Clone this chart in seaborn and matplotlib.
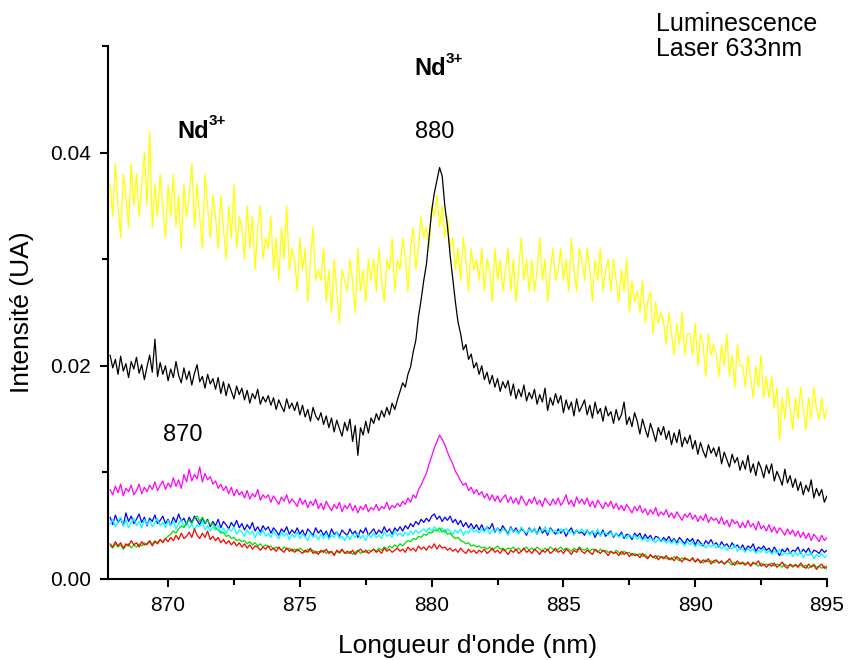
import numpy as np
import pandas as pd
import matplotlib
matplotlib.use("Agg")
import matplotlib.pyplot as plt
from matplotlib.ticker import MultipleLocator, FormatStrFormatter
import seaborn as sns

# Wavelength sampling (nm): 867.8 ... 895.0 in 0.1 nm steps
wavelength = np.round(np.linspace(867.8, 895.0, 273), 1)

# Luminescence intensities, in units of 1e-3 (UA); one row = 1 nm
yellow = [
    37, 34, 39, 35, 32, 38, 36, 33, 39, 35,
    38, 34, 37, 40, 35, 42, 33, 37, 34, 38,
    35, 32, 37, 34, 38, 33, 36, 31, 37, 34,
    36, 39, 33, 37, 34, 31, 38, 35, 32, 36,
    34, 31, 36, 33, 30, 35, 32, 37, 31, 34,
    33, 30, 35, 31, 34, 29, 33, 35, 30, 32,
    31, 34, 29, 32, 28, 33, 30, 35, 29, 31,
    30, 27, 32, 29, 31, 26, 30, 33, 28, 29,
    28, 31, 26, 29, 25, 30, 27, 24, 29, 28,
    27, 30, 28, 25, 31, 27, 29, 26, 30, 28,
    30, 27, 31, 28, 26, 30, 29, 32, 27, 30,
    29, 32, 30, 27, 31, 33, 29, 31, 34, 32,
    33, 31, 35, 34, 36, 33, 35, 32, 34, 31,
    32, 29, 31, 28, 32, 30, 27, 31, 29, 30,
    28, 31, 27, 30, 29, 26, 31, 28, 30, 27,
    29, 31, 27, 30, 26, 29, 32, 28, 30, 27,
    30, 27, 29, 32, 28, 30, 26, 29, 31, 28,
    29, 31, 28, 30, 27, 32, 29, 27, 31, 30,
    28, 31, 29, 26, 30, 28, 31, 27, 29, 30,
    27, 30, 28, 26, 29, 27, 30, 25, 28, 26,
    27, 25, 28, 24, 26, 27, 23, 26, 24, 25,
    24, 22, 25, 23, 21, 24, 22, 25, 21, 23,
    23, 21, 24, 20, 23, 22, 19, 23, 21, 22,
    21, 19, 22, 20, 23, 19, 21, 18, 22, 20,
    20, 18, 21, 19, 17, 20, 18, 21, 17, 19,
    17, 19, 16, 18, 13, 17, 15, 18, 16, 14,
    17, 15, 18, 16, 14, 17, 15, 18, 16, 15,
    17, 15, 16,
]
black = [
    21.0, 19.8, 20.6, 19.2, 20.9, 19.5, 20.2, 18.9, 20.4, 19.7,
    20.8, 19.3, 20.1, 18.7, 19.9, 21.0, 19.4, 22.5, 19.0, 20.3,
    19.2, 20.0, 18.6, 19.7, 18.9, 20.4, 19.1, 18.4, 19.8, 18.7,
    19.5, 18.2, 19.3, 20.1, 18.5, 19.0, 17.9, 19.2, 18.3, 18.8,
    17.8, 18.9, 17.4, 18.5, 17.2, 18.3, 17.6, 16.9, 18.1, 17.3,
    17.9, 16.8, 17.7, 16.5, 17.4, 16.9, 17.8, 16.4, 17.1, 16.6,
    17.2, 16.3, 17.0, 15.9, 16.8, 16.2, 15.7, 16.9, 16.0, 16.5,
    15.8, 16.6, 15.4, 16.3, 15.2, 15.9, 14.8, 16.1, 15.3, 14.9,
    15.6, 14.5, 15.3, 14.2, 15.1, 13.8, 14.9, 14.1, 13.4, 14.7,
    13.9, 15.0, 12.9, 14.4, 11.6, 14.2, 13.5, 14.8, 13.7, 15.1,
    14.6, 15.5, 14.9, 15.8, 15.2, 16.1, 15.4, 16.5, 15.9, 16.8,
    17.6, 18.4, 18.0, 19.2, 19.9, 21.3, 22.4, 24.6, 26.2, 28.0,
    29.5, 32.0, 34.5, 36.2, 37.4, 38.6, 37.8, 35.0, 33.1, 30.4,
    28.2, 26.0, 24.1, 23.0, 21.5, 22.0, 20.6, 21.1, 19.8, 20.3,
    19.2, 20.0, 18.7, 19.4, 18.3, 19.1, 18.0, 18.8, 17.6, 18.5,
    17.9, 18.6, 17.2, 18.3, 16.9, 17.8, 17.1, 18.2, 16.7, 17.5,
    16.9, 17.8, 16.4, 17.3, 16.6, 17.9, 15.8, 17.0, 16.3, 17.4,
    16.5, 17.2, 15.6, 16.8, 15.9, 16.6, 15.3, 16.9, 15.7, 16.2,
    16.8, 15.4, 16.3, 15.1, 16.6, 15.5, 16.0, 14.8, 16.2, 15.3,
    15.7, 14.6, 15.9, 14.9, 15.4, 16.6, 14.5, 15.2, 14.3, 15.6,
    14.8, 13.6, 15.0, 14.1, 13.3, 14.6, 13.8, 12.9, 14.2, 13.5,
    14.3, 13.1, 13.9, 12.6, 13.7, 12.8, 14.0, 12.4, 13.3, 12.7,
    13.5, 12.2, 13.0, 11.7, 12.8, 12.0, 11.4, 12.6, 11.8, 12.3,
    11.5, 12.4, 10.8, 11.9, 11.2, 10.5, 11.7, 10.9, 11.4, 10.2,
    11.1, 10.3, 11.6, 10.0, 10.8, 9.7, 11.0, 10.4, 9.5, 10.7,
    9.9, 10.8, 9.2, 10.1, 9.5, 8.8, 10.3, 9.0, 9.7, 8.6,
    9.4, 8.3, 9.1, 7.9, 8.8, 8.2, 9.3, 7.6, 8.5, 7.8,
    8.4, 7.2, 7.8,
]
magenta = [
    8.4, 7.9, 8.7, 8.1, 8.9, 7.8, 8.5, 8.2, 8.8, 7.9,
    8.3, 8.9, 8.0, 8.6, 8.2, 8.8, 8.4, 9.1, 8.3, 8.8,
    9.2, 8.4, 9.0, 8.6, 9.5, 8.7, 9.3, 8.5, 9.8, 9.1,
    10.3, 9.2, 9.8, 9.4, 10.5, 9.1, 9.9, 9.3, 9.6, 8.9,
    9.2, 8.5, 8.9, 8.3, 8.7, 8.0, 8.6, 7.8, 8.4, 7.9,
    8.2, 7.6, 8.3, 7.5, 8.0, 7.7, 8.4, 7.4, 7.9, 7.6,
    7.9, 7.2, 7.8, 7.4, 7.0, 7.7, 7.3, 7.9, 7.1, 7.5,
    7.2, 6.8, 7.6, 7.0, 7.4, 6.7, 7.3, 6.9, 7.5, 6.6,
    7.1, 6.5, 7.3, 6.8, 6.4, 7.0, 6.6, 7.2, 6.3, 6.9,
    6.6, 7.1, 6.4, 6.9, 6.2, 6.8, 6.5, 7.0, 6.3, 6.7,
    6.5, 7.0, 6.4, 6.8, 6.6, 7.2, 6.5, 6.9, 6.7, 7.1,
    6.8, 7.3, 7.0, 7.6, 7.2, 7.9, 7.6, 8.4, 8.8, 9.4,
    9.9, 10.8, 11.5, 12.3, 12.9, 13.5, 13.1, 12.6, 11.9, 11.3,
    10.8, 10.1, 9.7, 9.2, 8.8, 9.0, 8.3, 8.6, 8.0, 8.4,
    7.9, 8.2, 7.6, 8.0, 7.4, 7.9, 7.3, 7.8, 7.2, 7.6,
    7.9, 7.2, 7.7, 7.1, 7.6, 7.0, 7.8, 7.3, 6.9, 7.5,
    7.1, 7.7, 7.0, 7.4, 6.8, 7.6, 7.2, 6.9, 7.5, 7.0,
    7.6, 6.9, 7.3, 7.9, 7.0, 7.4, 6.8, 7.7, 7.1, 7.5,
    7.0, 7.6, 6.8, 7.3, 6.7, 7.4, 7.0, 6.6, 7.2, 6.8,
    7.3, 6.6, 7.1, 6.5, 6.9, 6.4, 7.0, 6.6, 6.2, 6.8,
    6.4, 6.9, 6.2, 6.6, 6.0, 6.5, 6.1, 6.7, 5.9, 6.3,
    6.0, 6.5, 5.8, 6.2, 5.7, 6.3, 5.9, 5.5, 6.1, 5.8,
    6.2, 5.6, 6.0, 5.4, 5.9, 5.5, 6.1, 5.3, 5.8, 5.5,
    5.7, 5.2, 5.8, 5.1, 5.5, 4.9, 5.6, 5.2, 5.4, 4.8,
    5.3, 4.8, 5.5, 4.9, 5.2, 4.6, 5.4, 4.7, 5.0, 4.5,
    5.1, 4.4, 4.9, 4.3, 4.8, 4.5, 4.1, 4.7, 4.2, 4.6,
    4.0, 4.5, 3.9, 4.4, 3.8, 4.3, 3.6, 4.2, 3.9, 3.5,
    4.1, 3.6, 3.9,
]
blue = [
    5.8, 5.1, 6.0, 5.3, 5.7, 5.0, 6.2, 5.4, 5.9, 5.2,
    5.6, 6.1, 5.3, 5.8, 5.0, 5.7, 5.4, 6.0, 5.2, 5.5,
    5.9, 5.2, 5.6, 5.0, 5.8, 5.3, 6.1, 5.4, 5.7, 5.1,
    5.8, 5.3, 5.9, 5.5, 5.1, 5.7, 5.2, 5.6, 4.9, 5.4,
    5.0, 5.6, 4.8, 5.4, 5.1, 4.7, 5.3, 4.9, 5.5, 4.8,
    5.2, 4.6, 5.1, 4.7, 5.3, 4.5, 4.9, 4.4, 5.0, 4.6,
    4.9, 4.3, 4.8, 4.5, 4.1, 4.7, 4.4, 4.9, 4.2, 4.6,
    4.3, 4.8, 4.2, 4.6, 4.0, 4.7, 4.4, 4.1, 4.8, 4.3,
    4.6, 4.1, 4.5, 3.9, 4.7, 4.2, 4.4, 4.0, 4.6, 4.3,
    4.1, 4.7, 4.2, 4.5, 3.9, 4.6, 4.3, 4.8, 4.1, 4.4,
    4.7, 4.2, 4.6, 4.3, 4.9, 4.4, 4.7, 4.2, 4.8, 4.5,
    4.9, 4.5, 5.0, 4.7, 5.2, 4.9, 5.4, 5.1, 5.6, 5.3,
    5.7, 5.4, 5.9, 6.1, 5.6, 5.9, 5.4, 5.8, 5.5, 5.9,
    5.3, 5.6, 5.1, 5.5, 4.9, 5.3, 4.8, 5.2, 4.7, 5.1,
    4.6, 5.1, 4.5, 4.9, 4.7, 5.2, 4.4, 4.8, 4.5, 5.0,
    4.6, 4.2, 4.9, 4.4, 4.8, 4.3, 4.7, 4.5, 4.1, 4.8,
    4.4, 4.7, 4.2, 4.9, 4.3, 4.6, 4.1, 4.8, 4.5, 4.2,
    4.7, 4.3, 4.6, 4.0, 4.5, 4.8, 4.2, 4.6, 4.3, 4.4,
    4.1, 4.6, 4.2, 4.5, 3.9, 4.4, 4.1, 4.6, 4.0, 4.3,
    4.5, 3.9, 4.3, 4.0, 4.4, 3.8, 4.2, 4.1, 3.7, 4.3,
    4.0, 4.3, 3.7, 4.2, 3.8, 4.1, 3.6, 4.0, 3.9, 3.5,
    3.9, 3.6, 4.0, 3.5, 3.8, 3.4, 3.9, 3.6, 3.3, 3.8,
    3.5, 3.8, 3.2, 3.7, 3.4, 3.1, 3.6, 3.3, 3.7, 3.2,
    3.4, 3.0, 3.5, 3.1, 3.3, 2.9, 3.4, 3.0, 3.2, 2.8,
    3.2, 2.7, 3.1, 2.9, 3.3, 2.6, 3.0, 2.8, 3.1, 2.7,
    2.9, 2.5, 3.0, 2.6, 2.2, 2.8, 2.5, 2.9, 2.4, 2.7,
    2.6, 3.0, 2.4, 2.8, 2.5, 2.9, 2.3, 2.7, 2.6, 2.4,
    2.8, 2.5, 2.7,
]
cyan = [
    5.1, 5.6, 4.9, 5.4, 5.8, 5.0, 5.5, 4.8, 5.3, 5.7,
    5.0, 5.4, 4.8, 5.6, 5.1, 5.5, 4.9, 5.3, 5.7, 5.0,
    5.3, 4.8, 5.5, 5.0, 5.4, 4.7, 5.2, 5.6, 4.9, 5.3,
    4.8, 5.2, 4.6, 5.1, 4.9, 5.4, 4.6, 5.0, 4.5, 4.9,
    4.6, 5.0, 4.4, 4.8, 4.3, 4.7, 4.5, 4.9, 4.2, 4.6,
    4.4, 4.0, 4.6, 4.2, 4.5, 3.9, 4.4, 4.1, 4.6, 4.0,
    4.3, 3.9, 4.5, 4.1, 3.8, 4.4, 4.0, 4.3, 3.7, 4.2,
    3.9, 4.4, 3.8, 4.2, 4.0, 3.6, 4.3, 3.9, 4.1, 3.7,
    4.2, 3.8, 4.3, 3.7, 4.1, 3.9, 4.4, 3.8, 4.0, 3.6,
    4.1, 3.7, 4.2, 3.9, 4.3, 3.8, 4.1, 3.6, 4.2, 3.9,
    4.3, 3.9, 4.1, 3.8, 4.4, 4.0, 4.2, 3.9, 4.5, 4.1,
    4.3, 4.0, 4.4, 4.1, 4.5, 4.2, 4.6, 4.3, 4.5, 4.7,
    4.4, 4.8, 4.5, 4.9, 4.6, 4.4, 4.8, 4.3, 4.7, 4.5,
    4.2, 4.6, 4.3, 4.7, 4.1, 4.5, 4.3, 4.8, 4.4, 4.6,
    4.3, 4.7, 4.4, 4.9, 4.2, 4.6, 4.5, 4.8, 4.3, 4.7,
    4.5, 4.1, 4.8, 4.4, 4.6, 4.2, 4.9, 4.5, 4.3, 4.7,
    4.4, 4.8, 4.2, 4.6, 4.5, 4.9, 4.3, 4.7, 4.4, 4.6,
    4.2, 4.7, 4.4, 4.8, 4.3, 4.5, 4.1, 4.6, 4.4, 4.7,
    4.3, 4.6, 4.1, 4.5, 4.2, 4.7, 4.0, 4.4, 4.3, 4.1,
    4.4, 4.0, 4.3, 3.9, 4.2, 4.0, 3.8, 4.2, 3.9, 4.1,
    3.7, 4.0, 3.6, 3.9, 3.5, 3.8, 3.7, 3.4, 3.8, 3.5,
    3.7, 3.4, 3.6, 3.3, 3.7, 3.2, 3.5, 3.4, 3.1, 3.5,
    3.2, 3.5, 3.0, 3.4, 3.1, 3.3, 2.9, 3.2, 3.0, 3.3,
    2.9, 3.2, 2.8, 3.1, 2.7, 3.0, 2.8, 3.2, 2.6, 2.9,
    2.8, 2.5, 2.9, 2.6, 2.8, 2.4, 2.7, 2.5, 2.9, 2.4,
    2.7, 2.3, 2.6, 2.4, 2.8, 2.2, 2.5, 2.3, 2.6, 2.1,
    2.5, 2.2, 2.6, 2.0, 2.4, 2.2, 2.5, 1.9, 2.3, 2.1,
    2.4, 2.0, 2.2,
]
green = [
    3.1, 2.9, 3.3, 3.0, 3.2, 2.8, 3.1, 3.3, 2.9, 3.2,
    3.0, 3.3, 3.1, 3.4, 3.2, 3.5, 3.3, 3.6, 3.4, 3.7,
    3.5, 3.8, 4.0, 4.2, 4.5, 4.3, 4.7, 5.0, 4.8, 5.3,
    5.5, 5.2, 5.7, 5.9, 5.4, 5.8, 5.3, 5.5, 5.1, 5.2,
    4.8, 4.6, 4.3, 4.4, 4.0, 4.1, 3.8, 3.9, 3.6, 3.7,
    3.5, 3.6, 3.3, 3.5, 3.2, 3.4, 3.1, 3.3, 3.0, 3.2,
    3.0, 3.1, 2.8, 3.0, 2.9, 2.7, 3.0, 2.8, 2.9, 2.6,
    2.8, 2.6, 2.9, 2.7, 2.5, 2.8, 2.6, 2.7, 2.4, 2.6,
    2.5, 2.7, 2.4, 2.6, 2.5, 2.3, 2.6, 2.4, 2.7, 2.5,
    2.4, 2.6, 2.3, 2.5, 2.7, 2.4, 2.6, 2.5, 2.7, 2.6,
    2.8, 2.6, 2.9, 2.7, 3.0, 2.8, 3.1, 2.9, 3.2, 3.0,
    3.3, 3.1, 3.4, 3.6, 3.5, 3.8, 3.7, 4.0, 3.9, 4.2,
    4.1, 4.4, 4.3, 4.6, 4.5, 4.8, 4.4, 4.6, 4.2, 4.3,
    4.0, 3.8, 3.9, 3.6, 3.5, 3.3, 3.4, 3.1, 3.2, 3.0,
    3.1, 2.9, 3.0, 2.8, 3.0, 2.7, 2.9, 3.1, 2.8, 2.9,
    2.7, 2.9, 2.8, 3.0, 2.7, 2.9, 2.6, 2.8, 3.0, 2.7,
    2.9, 2.7, 3.0, 2.8, 2.6, 2.9, 2.7, 3.0, 2.8, 2.6,
    2.8, 3.0, 2.7, 2.9, 2.8, 2.6, 2.9, 2.7, 3.0, 2.8,
    2.7, 2.9, 2.6, 2.8, 2.7, 2.5, 2.8, 2.6, 2.7, 2.5,
    2.6, 2.4, 2.7, 2.5, 2.3, 2.6, 2.4, 2.5, 2.2, 2.4,
    2.2, 2.4, 2.1, 2.3, 2.0, 2.2, 2.1, 1.9, 2.2, 2.0,
    2.1, 1.9, 2.0, 1.8, 2.1, 1.9, 1.7, 2.0, 1.8, 1.9,
    1.7, 1.9, 1.6, 1.8, 1.7, 1.5, 1.8, 1.6, 1.7, 1.5,
    1.7, 1.5, 1.6, 1.4, 1.7, 1.5, 1.3, 1.6, 1.4, 1.5,
    1.6, 1.4, 1.5, 1.3, 1.6, 1.4, 1.2, 1.5, 1.3, 1.4,
    1.3, 1.5, 1.2, 1.4, 1.3, 1.1, 1.4, 1.2, 1.3, 1.1,
    1.4, 1.2, 1.3, 1.1, 1.3, 1.0, 1.2, 1.4, 1.1, 1.2,
    1.0, 1.2, 0.9,
]
red = [
    3.3, 3.0, 3.5, 3.1, 3.4, 2.9, 3.3, 3.1, 3.6, 3.2,
    3.4, 3.0, 3.5, 3.2, 3.3, 3.6, 3.1, 3.5, 3.3, 3.7,
    3.4, 3.8, 3.5, 3.9, 3.6, 4.1, 3.7, 4.3, 3.8, 4.0,
    4.4, 3.9, 4.7, 4.1, 3.8, 4.3, 3.9, 4.5, 3.7, 4.0,
    3.6, 3.9, 3.4, 3.7, 3.3, 3.6, 3.2, 3.5, 3.1, 3.4,
    3.0, 3.3, 2.9, 3.2, 2.8, 3.1, 3.0, 2.7, 3.0, 2.8,
    3.1, 2.7, 2.9, 2.6, 3.0, 2.7, 2.5, 2.9, 2.6, 2.8,
    2.5, 2.8, 2.6, 2.4, 2.7, 2.5, 2.9, 2.4, 2.6, 2.3,
    2.7, 2.5, 2.8, 2.4, 2.6, 2.2, 2.7, 2.5, 2.8, 2.4,
    2.6, 2.4, 2.7, 2.3, 2.6, 2.8, 2.5, 2.7, 2.4, 2.6,
    2.8, 2.5, 2.7, 2.4, 2.9, 2.6, 2.8, 2.5, 2.7, 2.9,
    2.6, 2.8, 2.5, 3.0, 2.7, 2.9, 2.6, 3.1, 2.8, 3.0,
    2.7, 3.1, 2.9, 3.3, 2.8, 3.2, 2.9, 3.0, 2.7, 2.9,
    2.6, 2.8, 2.5, 2.9, 2.6, 2.4, 2.8, 2.5, 2.7, 2.4,
    2.7, 2.5, 2.8, 2.4, 2.6, 2.9, 2.5, 2.7, 2.4, 2.8,
    2.6, 2.3, 2.7, 2.5, 2.8, 2.4, 2.6, 2.9, 2.5, 2.7,
    2.4, 2.8, 2.6, 2.3, 2.7, 2.5, 2.8, 2.4, 2.6, 2.9,
    2.5, 2.7, 2.4, 2.8, 2.6, 2.3, 2.7, 2.5, 2.9, 2.6,
    2.4, 2.7, 2.5, 2.3, 2.8, 2.6, 2.4, 2.7, 2.5, 2.2,
    2.6, 2.4, 2.5, 2.2, 2.6, 2.3, 2.5, 2.1, 2.4, 2.2,
    2.3, 2.0, 2.4, 2.1, 1.9, 2.3, 2.0, 2.2, 1.8, 2.1,
    1.9, 2.2, 1.8, 2.0, 1.7, 2.1, 1.9, 1.6, 2.0, 1.8,
    1.7, 2.0, 1.6, 1.9, 1.5, 1.8, 1.6, 1.9, 1.4, 1.7,
    1.8, 1.5, 1.7, 1.4, 1.6, 1.9, 1.5, 1.3, 1.7, 1.4,
    1.5, 1.3, 1.6, 1.2, 1.5, 1.4, 1.7, 1.2, 1.4, 1.1,
    1.4, 1.2, 1.5, 1.1, 1.3, 1.6, 1.2, 1.0, 1.4, 1.2,
    1.3, 1.1, 1.5, 1.2, 1.0, 1.4, 1.1, 1.3, 0.9, 1.2,
    1.4, 1.0, 1.2,
]

series = {
    "yellow": yellow,
    "black": black,
    "magenta": magenta,
    "blue": blue,
    "cyan": cyan,
    "green": green,
    "red": red,
}
palette = {
    "yellow": "#FFFF00",
    "black": "#000000",
    "magenta": "#FF00FF",
    "blue": "#0000FF",
    "cyan": "#00FFFF",
    "green": "#00E000",
    "red": "#FF0000",
}

frames = []
for name, vals in series.items():
    assert len(vals) == len(wavelength), name
    frames.append(pd.DataFrame({
        "wavelength": wavelength,
        "intensity": np.asarray(vals, dtype=float) * 1e-3,
        "sample": name,
    }))
df = pd.concat(frames, ignore_index=True)

sns.set_style("ticks")
plt.rcParams["font.family"] = ["Liberation Sans", "DejaVu Sans"]
plt.rcParams["text.color"] = "black"
plt.rcParams["axes.labelcolor"] = "black"
plt.rcParams["xtick.color"] = "black"
plt.rcParams["ytick.color"] = "black"

fig = plt.figure(figsize=(8.48, 6.60), dpi=100)
ax = fig.add_axes([108 / 848, 81 / 660, 719 / 848, 533 / 660])

sns.lineplot(data=df, x="wavelength", y="intensity", hue="sample",
             hue_order=list(series.keys()), palette=palette,
             estimator=None, sort=False, linewidth=0.9, legend=False, ax=ax)

ax.set_xlim(867.72, 895.0)
ax.set_ylim(0.0, 0.05)
ax.xaxis.set_major_locator(MultipleLocator(5))
ax.xaxis.set_minor_locator(MultipleLocator(2.5))
ax.yaxis.set_major_locator(MultipleLocator(0.02))
ax.yaxis.set_minor_locator(MultipleLocator(0.01))
ax.yaxis.set_major_formatter(FormatStrFormatter("%.2f"))

for side in ("top", "right"):
    ax.spines[side].set_visible(False)
for side in ("left", "bottom"):
    ax.spines[side].set_linewidth(1.5)
    ax.spines[side].set_color("black")

ax.tick_params(which="major", direction="out", length=6, width=1.5,
               labelsize=15, pad=6, colors="black")
ax.tick_params(which="minor", direction="out", length=4, width=1.5,
               colors="black")

ax.set_xlabel("Longueur d'onde (nm)", fontsize=19, labelpad=14)
ax.set_ylabel("Intensité (UA)", fontsize=19, labelpad=12)


def ion_label(x, y):
    base = ax.text(x, y, "Nd", fontsize=17, fontweight="bold",
                   ha="left", va="baseline")
    ax.annotate("3+", xy=(1.0, 0.62), xycoords=base, fontsize=11,
                fontweight="bold", ha="left", va="bottom")


# Peak annotations
ion_label(879.33, 0.0473)
ax.text(880.13, 0.0419, "880", fontsize=17, ha="center", va="center")
ion_label(870.34, 0.0414)
ax.text(870.57, 0.0135, "870", fontsize=17, ha="center", va="center")

fig.text(656 / 848, 1 - 12 / 660, "Luminescence\nLaser 633nm", fontsize=18,
         ha="left", va="top", linespacing=1.07)

fig.savefig("out.png", dpi=100)
